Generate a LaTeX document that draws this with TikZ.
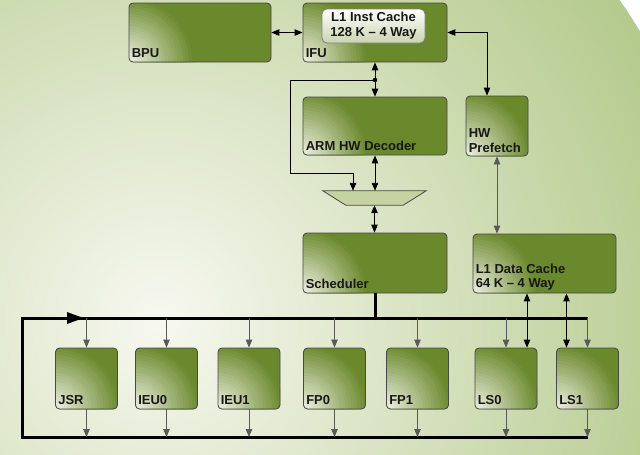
\documentclass[tikz,border=0pt]{standalone}
\usepackage{fontspec}
\setmainfont{Liberation Sans}
\usetikzlibrary{arrows.meta, calc, math, positioning}
\definecolor{boxdark}{RGB}{106,136,44}
\definecolor{boxlight}{RGB}{242,244,232}
\definecolor{bglight}{RGB}{247,248,240}
\definecolor{bgdark}{RGB}{180,202,140}
\definecolor{edgegray}{RGB}{72,72,72}
\definecolor{txtgray}{RGB}{24,24,24}
\definecolor{muxfill}{RGB}{196,211,160}
\tikzset{
  >={Triangle[length=8pt,width=6.5pt]},
  unit/.style={draw=edgegray, line width=0.8pt, rounded corners=4pt, fill=boxdark, inner sep=0pt,
    path picture={
      \foreach \i [evaluate=\i as \p using int(100*\i/22), evaluate=\i as \r using 66-3*\i] in {0,...,21}
        \fill[boxlight!\p!boxdark] (path picture bounding box.south west) circle (\r pt);
    }},
  lbl/.style={font=\bfseries\fontsize{13}{14.5}\selectfont, text=txtgray, inner sep=0pt, anchor=south west, align=left},
  cachebox/.style={draw=gray, line width=0.8pt, rounded corners=5pt, top color=white, bottom color=boxlight!70!boxdark, inner sep=0pt, align=center, font=\bfseries\fontsize{13}{15}\selectfont, text=txtgray},
  conn/.style={line width=0.9pt, black},
  connthin/.style={line width=0.8pt, black!65},
  bus/.style={line width=3pt, black, line join=miter}
}

\begin{document}
\begin{tikzpicture}[x=1pt, y=-1pt]
\tikzmath{
\busY=318;
\retY=437;
}
\useasboundingbox (0,0) rectangle (640,455);
\begin{scope}
\clip (0,0) rectangle (640,455);
\shade[inner color=bglight, outer color=bgdark] (160,320) circle (560pt);
\end{scope}

% front end
\node[unit, minimum width=142, minimum height=59, label={[lbl, xshift=3pt, yshift=5pt]south west:BPU}] (BPU) at (200,32.5) {};
\node[unit, minimum width=144, minimum height=59, label={[lbl, xshift=3pt, yshift=5pt]south west:IFU}] (IFU) at (375,32.5) {};
\node[cachebox, minimum width=103, minimum height=34] (L1I) at (373.5,26) {L1 Inst Cache\\128 K – 4 Way};
\node[unit, minimum width=144, minimum height=58, label={[lbl, xshift=3pt, yshift=5pt]south west:ARM HW Decoder}] (ARM) at (375,126) {};
\node[unit, minimum width=62, minimum height=60, label={[lbl, xshift=3pt, yshift=4pt]south west:HW\\Prefetch}] (HWP) at (497,126) {};
\node[inner sep=0pt, minimum width=103, minimum height=14] (mux) at (374.5,198) {};
\filldraw[fill=muxfill, draw=edgegray, line width=0.8pt] (mux.north west) -- (mux.north east) -- ([xshift=-23pt]mux.south east) -- ([xshift=23pt]mux.south west) -- cycle;
\node[unit, minimum width=144, minimum height=60, label={[lbl, xshift=3pt, yshift=5pt]south west:Scheduler}] (Sched) at (375,263) {};
\node[unit, minimum width=143, minimum height=59, label={[lbl, xshift=3pt, yshift=3pt]south west:L1 Data Cache\\64 K – 4 Way}] (L1D) at (544.5,263.5) {};

\coordinate (split) at (IFU.south |- 0,80);
\draw[<->, conn] (BPU.east) -- (IFU.west);
\draw[<->, conn] (IFU.east) -| ([xshift=-10pt]HWP.north);
\draw[<->, conn] (IFU.south) -- (IFU.south |- ARM.north);
\fill (split) circle (2.3pt);
\draw[->, conn] (split) -| (290,173) -| ([xshift=-21.5pt]mux.north);
\draw[<->, conn] (ARM.south) -- (ARM.south |- mux.north);
\draw[<->, conn] (mux.south) -- (mux.south |- Sched.north);
\draw[<->, connthin] (HWP.south) -- (HWP.south |- L1D.north);

% result bus
\coordinate (busW) at (22,\busY);
\coordinate (busE) at (588,\busY);
\coordinate (retW) at (22,\retY);
\coordinate (retE) at (588,\retY);
\draw[bus] (retE) -- (retW) -- (busW) -- (busE);
\draw[bus, -{Triangle[length=17pt,width=11pt]}] (busW) -- ++(62,0);
\draw[bus] (Sched.south) -- (Sched.south |- busW);

% execution units
\foreach \name/\x in {JSR/86.5, IEU0/166.5, IEU1/249, FP0/334.5, FP1/417.5, LS0/506, LS1/587.5}{
  \node[unit, minimum width=62, minimum height=61, label={[lbl, xshift=3pt, yshift=5pt]south west:\name}] (\name) at (\x,378.5) {};
  \draw[->, connthin] (\name.north |- busW) -- (\name.north);
  \draw[->, connthin] (\name.south) -- (\name.south |- retW);
}
\draw[<->, conn] ([xshift=21pt]LS0.north) -- ([xshift=21pt]LS0.north |- L1D.south);
\draw[<->, conn] ([xshift=-21pt]LS1.north) -- ([xshift=-21pt]LS1.north |- L1D.south);

\end{tikzpicture}
\end{document}
